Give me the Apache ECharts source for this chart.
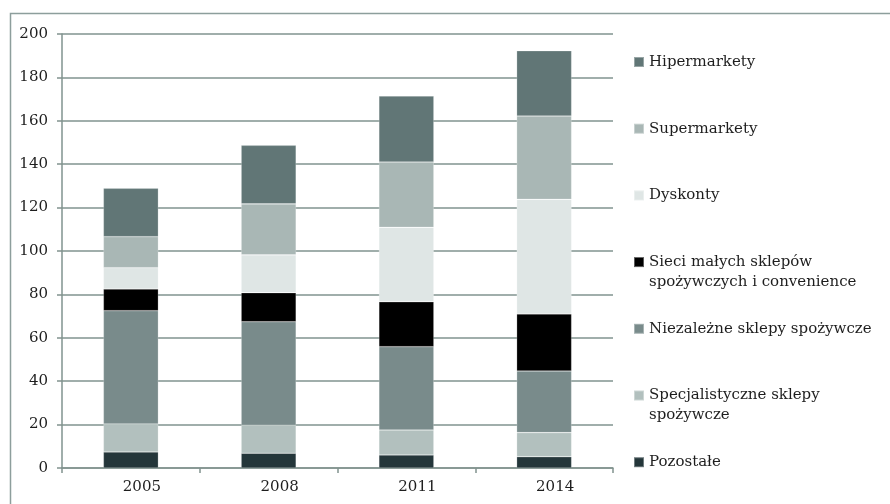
<!DOCTYPE html>
<html>
<head>
<meta charset="utf-8">
<script src="https://cdn.jsdelivr.net/npm/echarts@6/dist/echarts.min.js"></script>
<style>html,body{margin:0;padding:0;background:#fff}#c{width:890px;height:504px}</style>
</head>
<body>
<div id="c"></div>
<script>
const categories = ['2005', '2008', '2011', '2014'];
const pozostale = [7.4, 6.8, 6.0, 5.2];
const specjalistyczne = [12.9, 12.9, 11.5, 11.1];
const niezalezne = [52.2, 47.7, 38.4, 28.4];
const sieci = [10.0, 13.4, 20.7, 26.3];
const dyskonty = [9.8, 17.4, 34.3, 52.8];
const supermarkety = [14.3, 23.5, 30.1, 38.4];
const hipermarkety = [22.3, 27.0, 30.4, 30.1];
const yTicks = [0, 20, 40, 60, 80, 100, 120, 140, 160, 180, 200];

const names = {
  hip: 'Hipermarkety',
  sup: 'Supermarkety',
  dys: 'Dyskonty',
  sie: 'Sieci małych sklepów spożywczych i convenience',
  nie: 'Niezależne sklepy spożywcze',
  spe: 'Specjalistyczne sklepy spożywcze',
  poz: 'Pozostałe'
};
const legendLabels = {};
legendLabels[names.hip] = 'Hipermarkety\n ';
legendLabels[names.sup] = 'Supermarkety\n ';
legendLabels[names.dys] = 'Dyskonty\n ';
legendLabels[names.sie] = 'Sieci małych sklepów\nspożywczych i convenience';
legendLabels[names.nie] = 'Niezależne sklepy spożywcze\n ';
legendLabels[names.spe] = 'Specjalistyczne sklepy\nspożywcze';
legendLabels[names.poz] = 'Pozostałe\n ';

const FONT = 'DejaVu Serif';
const GRID = '#81938f';

function bar(name, data, color) {
  return {
    name: name, type: 'bar', stack: 'total', data: data, barWidth: 55,
    itemStyle: { color: color, borderColor: 'rgba(255,255,255,0.35)', borderWidth: 0.6 }
  };
}

const chart = echarts.init(document.getElementById('c'));
chart.setOption({
  animation: false,
  backgroundColor: '#fff',
  graphic: [{
    type: 'rect', left: 8, top: 11, silent: true,
    shape: { width: 900, height: 600 },
    style: { fill: 'none', stroke: '#8d9e9c', lineWidth: 1.5 }
  }],
  grid: { left: 62, right: 277, top: 34, bottom: 36 },
  legend: {
    orient: 'vertical', left: 633, top: 32, padding: 0,
    itemWidth: 10, itemHeight: 10, itemGap: 6.7, icon: 'rect',
    data: [names.hip, names.sup, names.dys, names.sie, names.nie, names.spe, names.poz],
    formatter: function (n) { return ' \n' + legendLabels[n]; },
    textStyle: { fontFamily: FONT, fontSize: 15, color: '#1e1e1e', lineHeight: 20 }
  },
  xAxis: {
    type: 'category', data: categories, boundaryGap: true,
    axisLine: { lineStyle: { color: GRID, width: 1.5 } },
    axisTick: { show: true, length: 5, lineStyle: { color: GRID, width: 1.5 } },
    axisLabel: { fontFamily: FONT, fontSize: 15, color: '#1e1e1e', margin: 12, padding: [0, 0, 0, 22] }
  },
  yAxis: {
    type: 'value', min: 0, max: 200, interval: 20,
    axisLine: { show: true, lineStyle: { color: GRID, width: 1.5 } },
    axisTick: { show: true, length: 5, lineStyle: { color: GRID, width: 1.5 } },
    axisLabel: { fontFamily: FONT, fontSize: 15, color: '#1e1e1e', margin: 14,
      formatter: function (v) { return yTicks.indexOf(v) >= 0 ? String(v) : ''; } },
    splitLine: { lineStyle: { color: GRID, width: 1.5 } }
  },
  series: [
    bar(names.poz, pozostale, '#24363a'),
    bar(names.spe, specjalistyczne, '#b2c0be'),
    bar(names.nie, niezalezne, '#798b8b'),
    bar(names.sie, sieci, '#000000'),
    bar(names.dys, dyskonty, '#dfe6e5'),
    bar(names.sup, supermarkety, '#a9b7b5'),
    bar(names.hip, hipermarkety, '#617676')
  ]
});
</script>
</body>
</html>
